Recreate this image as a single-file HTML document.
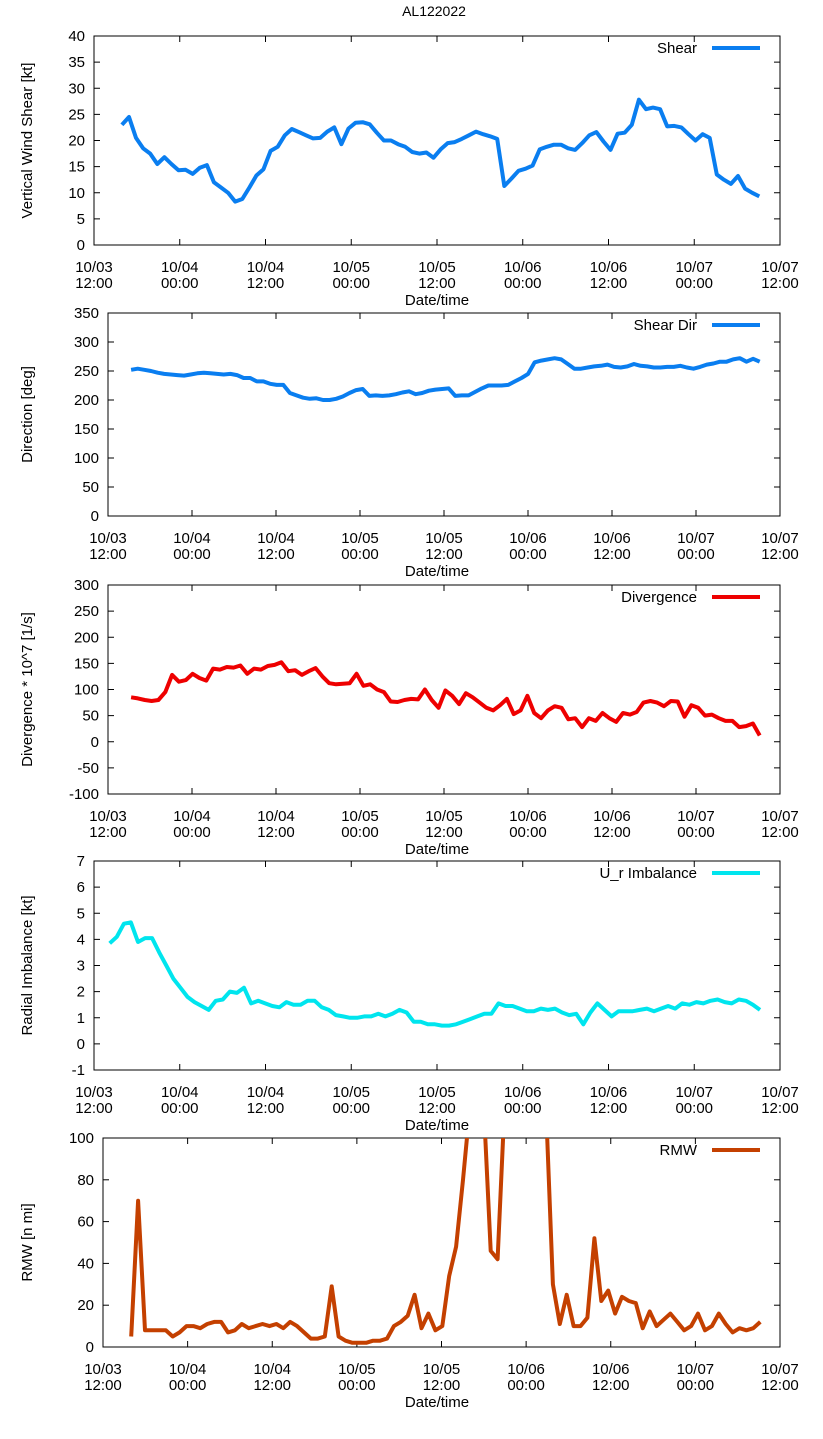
<!DOCTYPE html>
<html><head><meta charset="utf-8">
<style>
html,body{margin:0;padding:0;background:#fff;}
svg{display:block;font-family:"Liberation Sans","DejaVu Sans",sans-serif;}
</style></head>
<body>
<svg id="chart" width="823" height="1439" viewBox="0 0 823 1439" xmlns="http://www.w3.org/2000/svg">
<text x="434" y="16" font-size="14" text-anchor="middle">AL122022</text>
</svg>
<script>
// x tick labels (hours since 10/03 12:00, every 12h)
const xTickDates = ["10/03","10/04","10/04","10/05","10/05","10/06","10/06","10/07","10/07"];
const xTickTimes = ["12:00","00:00","12:00","00:00","12:00","00:00","12:00","00:00","12:00"];

const shearStart = 3.9, shearEnd = 93.1;
const shearVals = [23,24.5,20.5,18.5,17.5,15.5,16.8,15.5,14.3,14.4,13.6,14.8,15.3,12,11,10,8.3,8.8,11,13.3,14.5,18,18.8,21,22.2,21.6,21,20.4,20.5,21.7,22.5,19.3,22.3,23.4,23.5,23.1,21.5,20,20,19.3,18.8,17.8,17.5,17.7,16.7,18.3,19.5,19.7,20.3,21,21.7,21.2,20.8,20.3,11.3,12.7,14.2,14.6,15.2,18.3,18.8,19.2,19.2,18.5,18.2,19.5,21,21.6,19.8,18.2,21.3,21.5,23,27.8,26,26.3,26,22.7,22.8,22.5,21.2,20,21.2,20.5,13.5,12.5,11.7,13.2,10.8,10,9.3];

const dirStart = 3.3, dirEnd = 93.1;
const dirVals = [252,254,252,250,247,245,244,243,242,244,246,247,246,245,244,245,243,238,238,232,232,228,226,226,212,208,204,202,203,200,200,202,206,212,217,219,207,208,207,208,210,213,215,210,212,216,218,219,220,207,208,208,214,220,225,225,225,226,232,238,245,265,268,270,272,270,262,254,254,256,258,259,261,257,256,258,262,259,258,256,256,257,257,259,256,254,257,261,263,266,266,270,272,266,271,266];

const divStart = 3.3, divEnd = 93.1;
const divVals = [85,83,80,78,80,95,128,115,118,130,122,117,140,138,143,142,146,130,140,138,145,147,152,135,137,128,135,141,125,112,110,111,112,130,107,110,100,95,77,76,80,82,81,100,80,65,98,88,72,93,85,75,65,60,70,82,53,60,88,55,45,60,68,65,43,45,28,45,40,55,45,38,55,52,57,75,78,75,68,78,77,48,70,65,50,52,45,40,40,28,30,35,12];

const imbStart = 2.2, imbEnd = 93.2;
const imbVals = [3.85,4.1,4.6,4.65,3.9,4.05,4.05,3.5,3.0,2.5,2.15,1.8,1.6,1.45,1.3,1.65,1.7,2.0,1.95,2.15,1.55,1.65,1.55,1.45,1.4,1.6,1.5,1.5,1.65,1.65,1.4,1.3,1.1,1.05,1.0,1.0,1.05,1.05,1.15,1.05,1.15,1.3,1.2,0.85,0.85,0.75,0.75,0.7,0.7,0.75,0.85,0.95,1.05,1.15,1.15,1.55,1.45,1.45,1.35,1.25,1.25,1.35,1.3,1.35,1.2,1.1,1.15,0.75,1.2,1.55,1.3,1.05,1.25,1.25,1.25,1.3,1.35,1.25,1.35,1.45,1.35,1.55,1.5,1.6,1.55,1.65,1.7,1.6,1.55,1.7,1.65,1.5,1.3];

const rmwStart = 4.0, rmwEnd = 93.2;
const rmwVals = [5,70,8,8,8,8,5,7,10,10,9,11,12,12,7,8,11,9,10,11,10,11,9,12,10,7,4,4,5,29,5,3,2,2,2,3,3,4,10,12,15,25,9,16,8,10,34,48,80,115,115,115,46,42,115,115,115,115,115,115,115,30,11,25,10,10,14,52,22,27,16,24,22,21,9,17,10,13,16,12,8,10,16,8,10,16,11,7,9,8,9,12];

const svg = document.getElementById('chart');
const NS = 'http://www.w3.org/2000/svg';
function mk(tag, attrs, parent){ const e=document.createElementNS(NS,tag); for(const k in attrs) e.setAttribute(k,attrs[k]); (parent||svg).appendChild(e); return e; }

function panel(cfg){
  const g = mk('g',{});
  
  
  const L=cfg.left,R=780,T=cfg.top,B=cfg.bottom;
  const xs = h => L + (R-L)*h/96;
  const ys = v => B - (B-T)*(v-cfg.yMin)/(cfg.yMax-cfg.yMin);
  const frame = mk('rect',{x:L,y:T,width:R-L,height:B-T,fill:'none',stroke:'#000','stroke-width':1},g);
  
  
  for(let v=cfg.yMin; v<=cfg.yMax+1e-9; v+=cfg.yStep){
    const y=ys(v);
    mk('line',{x1:L,x2:L+6,y1:y,y2:y,stroke:'#000'},g);
    mk('line',{x1:R,x2:R-6,y1:y,y2:y,stroke:'#000'},g);
    const t=mk('text',{x:L-9,y:y+5,'font-size':15,'text-anchor':'end'},g);
    t.textContent = String(v);
    
    
  }
  xTickDates.forEach((d,i)=>{
    const x=xs(i*12);
    mk('line',{x1:x,x2:x,y1:B,y2:B-6,stroke:'#000'},g);
    mk('line',{x1:x,x2:x,y1:T,y2:T+6,stroke:'#000'},g);
    const t=mk('text',{x:x,y:B+27,'font-size':15,'text-anchor':'middle'},g);
    t.textContent=d;
    
    
    const t2=mk('text',{x:x,y:B+43,'font-size':15,'text-anchor':'middle'},g);
    t2.textContent=xTickTimes[i];
    
    
  });
  const xl=mk('text',{x:437,y:B+60,'font-size':15,'text-anchor':'middle'},g);
  xl.textContent='Date/time';
  
  
  const yl=mk('text',{x:0,y:0,'font-size':15,'text-anchor':'middle',transform:`translate(32,${(T+B)/2}) rotate(-90)`},g);
  yl.textContent=cfg.ylabel;
  
  
  const cp=mk('clipPath',{id:'clip-'+cfg.name},g);
  mk('rect',{x:L,y:T,width:R-L,height:B-T},cp);
  const n=cfg.vals.length;
  const step=(cfg.end-cfg.start)/(n-1);
  const pts=cfg.vals.map((v,i)=>xs(cfg.start+i*step).toFixed(1)+','+ys(v).toFixed(1)).join(' ');
  const line=mk('polyline',{points:pts,fill:'none',stroke:cfg.color,'stroke-width':4,'stroke-linejoin':'round','clip-path':`url(#clip-${cfg.name})`},g);
  
  
  const lt=mk('text',{x:697,y:T+17,'font-size':15,'text-anchor':'end'},g);
  lt.textContent=cfg.legend;
  
  
  const ll=mk('line',{x1:712,x2:760,y1:T+12,y2:T+12,stroke:cfg.color,'stroke-width':4},g);
  
  
}

panel({name:'shear',left:94,top:36,bottom:245,yMin:0,yMax:40,yStep:5,ylabel:'Vertical Wind Shear [kt]',legend:'Shear',color:'#0a7ef0',vals:shearVals,start:shearStart,end:shearEnd});
panel({name:'shear-dir',left:108,top:313,bottom:516,yMin:0,yMax:350,yStep:50,ylabel:'Direction [deg]',legend:'Shear Dir',color:'#0a7ef0',vals:dirVals,start:dirStart,end:dirEnd});
panel({name:'divergence',left:108,top:585,bottom:794,yMin:-100,yMax:300,yStep:50,ylabel:'Divergence * 10^7 [1/s]',legend:'Divergence',color:'#ee0000',vals:divVals,start:divStart,end:divEnd});
panel({name:'imbalance',left:94,top:861,bottom:1070,yMin:-1,yMax:7,yStep:1,ylabel:'Radial Imbalance [kt]',legend:'U_r Imbalance',color:'#00e5ee',vals:imbVals,start:imbStart,end:imbEnd});
panel({name:'rmw',left:103,top:1138,bottom:1347,yMin:0,yMax:100,yStep:20,ylabel:'RMW [n mi]',legend:'RMW',color:'#c44000',vals:rmwVals,start:rmwStart,end:rmwEnd});
</script>
</body></html>
